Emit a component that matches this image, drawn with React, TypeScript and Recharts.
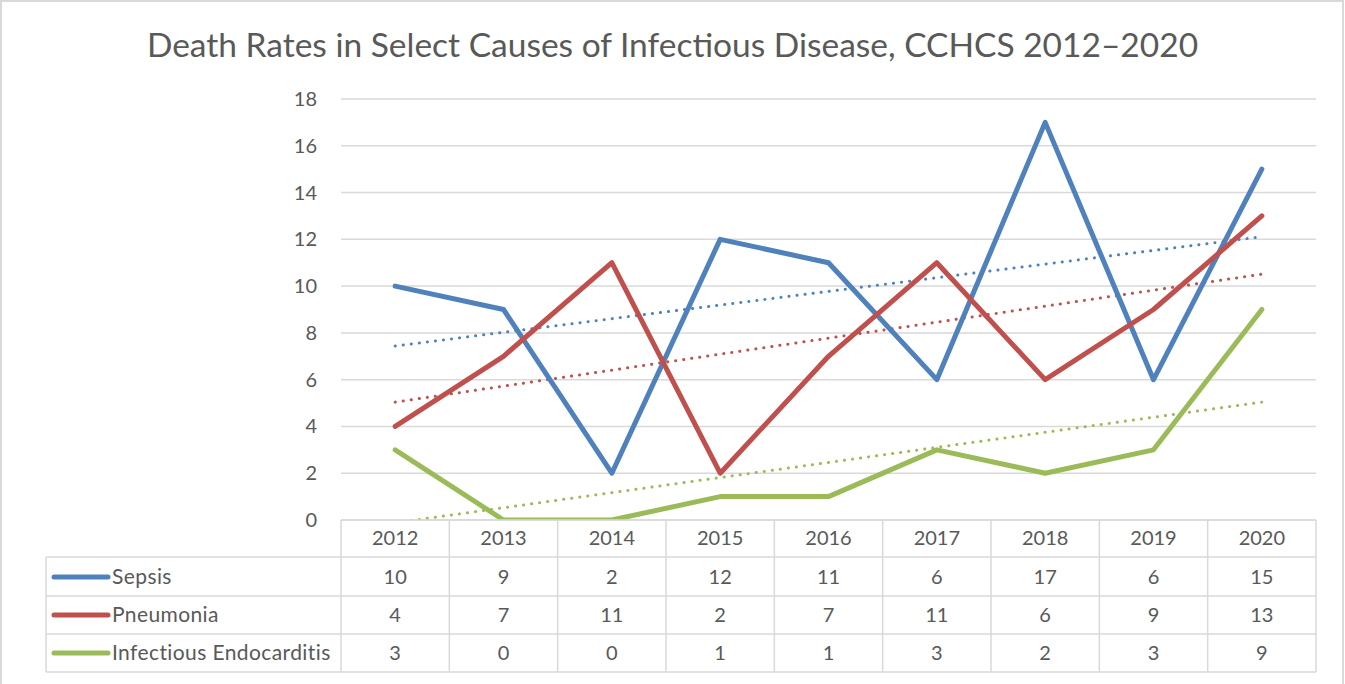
import React from "react";
import { LineChart, Line, XAxis, YAxis, CartesianGrid } from "recharts";

const years = ["2012", "2013", "2014", "2015", "2016", "2017", "2018", "2019", "2020"];
const sepsis = [10, 9, 2, 12, 11, 6, 17, 6, 15];
const pneumonia = [4, 7, 11, 2, 7, 11, 6, 9, 13];
const endocarditis = [3, 0, 0, 1, 1, 3, 2, 3, 9];
// dotted trend lines, start / end values
const sepsisTrend = [7.44, 12.11];
const pneumoniaTrend = [5.04, 10.51];
const endocarditisTrend = [-0.12, 5.04];
const yTicks = [0, 2, 4, 6, 8, 10, 12, 14, 16, 18];

const series = [
  { key: "sepsis", name: "Sepsis", color: "#4f81bd", values: sepsis },
  { key: "pneumonia", name: "Pneumonia", color: "#c0504d", values: pneumonia },
  { key: "endocarditis", name: "Infectious Endocarditis", color: "#9bbb59", values: endocarditis },
];

const trendAt = (t: number[], i: number) => (i === 0 ? t[0] : i === years.length - 1 ? t[1] : null);

const data = years.map((year, i) => ({
  year,
  sepsis: sepsis[i],
  pneumonia: pneumonia[i],
  endocarditis: endocarditis[i],
  sepsisTrend: trendAt(sepsisTrend, i),
  pneumoniaTrend: trendAt(pneumoniaTrend, i),
  endocarditisTrend: trendAt(endocarditisTrend, i),
}));

const W = 1345;
const H = 684;
const PLOT_LEFT = 341;
const PLOT_RIGHT = 29;
const COL_W = (W - PLOT_LEFT - PLOT_RIGHT) / years.length;
const LEGEND_W = 295;
const FONT = "Lato, 'Liberation Sans', sans-serif";
const TEXT = "#595959";
const BORDER = "#d9d9d9";
const ROW_LINES = [37, 76, 114, 152];
const ROW_MID = [18, 57, 95, 133];
const FS = 20;

function YTick(props: any) {
  const { x, y, payload } = props;
  return (
    <text x={x - 24} y={y} dy="0.35em" textAnchor="end" fontSize={FS} fill={TEXT} fontFamily={FONT}>
      {payload.value}
    </text>
  );
}

function TableTick(props: any) {
  const { x, y, payload } = props;
  const i = payload.index;
  const left = x - COL_W / 2;
  const right = x + COL_W / 2;
  const lg = left - LEGEND_W;
  return (
    <g>
      <line x1={right} y1={y} x2={right} y2={y + ROW_LINES[3]} stroke={BORDER} strokeWidth={1.5} />
      {i === 0 && <line x1={left} y1={y} x2={left} y2={y + ROW_LINES[3]} stroke={BORDER} strokeWidth={1.5} />}
      {ROW_LINES.map((ry) => (
        <line key={ry} x1={left} y1={y + ry} x2={right} y2={y + ry} stroke={BORDER} strokeWidth={1.5} />
      ))}
      <text x={x} y={y + ROW_MID[0]} dy="0.35em" textAnchor="middle" fontSize={FS} fill={TEXT} fontFamily={FONT}>
        {payload.value}
      </text>
      {series.map((s, r) => (
        <text
          key={s.key}
          x={x}
          y={y + ROW_MID[r + 1]}
          dy="0.35em"
          textAnchor="middle"
          fontSize={FS}
          fill={TEXT}
          fontFamily={FONT}
        >
          {s.values[i]}
        </text>
      ))}
      {i === 0 && (
        <g>
          <line x1={lg} y1={y + ROW_LINES[0]} x2={lg} y2={y + ROW_LINES[3]} stroke={BORDER} strokeWidth={1.5} />
          {ROW_LINES.map((ry) => (
            <line key={ry} x1={lg} y1={y + ry} x2={left} y2={y + ry} stroke={BORDER} strokeWidth={1.5} />
          ))}
          {series.map((s, r) => (
            <g key={s.key}>
              <line
                x1={lg + 8}
                y1={y + ROW_MID[r + 1]}
                x2={lg + 62}
                y2={y + ROW_MID[r + 1]}
                stroke={s.color}
                strokeWidth={5}
                strokeLinecap="round"
              />
              <text
                x={lg + 66}
                y={y + ROW_MID[r + 1]}
                dy="0.35em"
                textAnchor="start"
                fontSize={21}
                letterSpacing={0.4}
                fill={TEXT}
                fontFamily={FONT}
              >
                {s.name}
              </text>
            </g>
          ))}
        </g>
      )}
    </g>
  );
}

export default function App() {
  return (
    <div style={{ position: "absolute", left: 0, top: 0, width: W, height: H, overflow: "hidden", background: "#fff" }}>
      <div
        style={{
          position: "absolute",
          left: 0,
          top: 0,
          width: W - 5,
          height: H + 20,
          borderLeft: `2px solid ${BORDER}`,
          borderTop: `2px solid ${BORDER}`,
          borderRight: `2px solid ${BORDER}`,
        }}
      />
      <div
        style={{
          position: "absolute",
          left: 0,
          top: 24,
          width: W,
          textAlign: "center",
          fontFamily: FONT,
          fontSize: 33.5,
          color: TEXT,
          fontWeight: 400,
          lineHeight: "40px",
          whiteSpace: "nowrap",
        }}
      >
        Death Rates in Select Causes of Infectious Disease, CCHCS 2012–2020
      </div>
      <div style={{ position: "absolute", left: 0, top: 0 }}>
        <LineChart width={W} height={H} data={data} margin={{ top: 99, right: PLOT_RIGHT, left: 0, bottom: 14 }}>
          <CartesianGrid vertical={false} stroke={BORDER} strokeWidth={1.5} />
          <XAxis
            dataKey="year"
            interval={0}
            height={150}
            tickLine={false}
            tickSize={0}
            tickMargin={0}
            axisLine={{ stroke: BORDER, strokeWidth: 1.5 }}
            padding={{ left: COL_W / 2, right: COL_W / 2 }}
            tick={<TableTick />}
          />
          <YAxis
            width={PLOT_LEFT}
            domain={[0, 18]}
            ticks={yTicks}
            allowDataOverflow
            axisLine={false}
            tickLine={false}
            tickSize={0}
            tickMargin={0}
            tick={<YTick />}
          />
          {series.map((s) => (
            <Line
              key={s.key + "Trend"}
              dataKey={s.key + "Trend"}
              stroke={s.color}
              strokeWidth={3}
              strokeDasharray="0.1 8"
              strokeLinecap="round"
              connectNulls
              dot={false}
              activeDot={false}
              isAnimationActive={false}
            />
          ))}
          {series.map((s) => (
            <Line
              key={s.key}
              dataKey={s.key}
              name={s.name}
              stroke={s.color}
              strokeWidth={5}
              strokeLinecap="round"
              strokeLinejoin="round"
              dot={false}
              activeDot={false}
              isAnimationActive={false}
            />
          ))}
        </LineChart>
      </div>
    </div>
  );
}
